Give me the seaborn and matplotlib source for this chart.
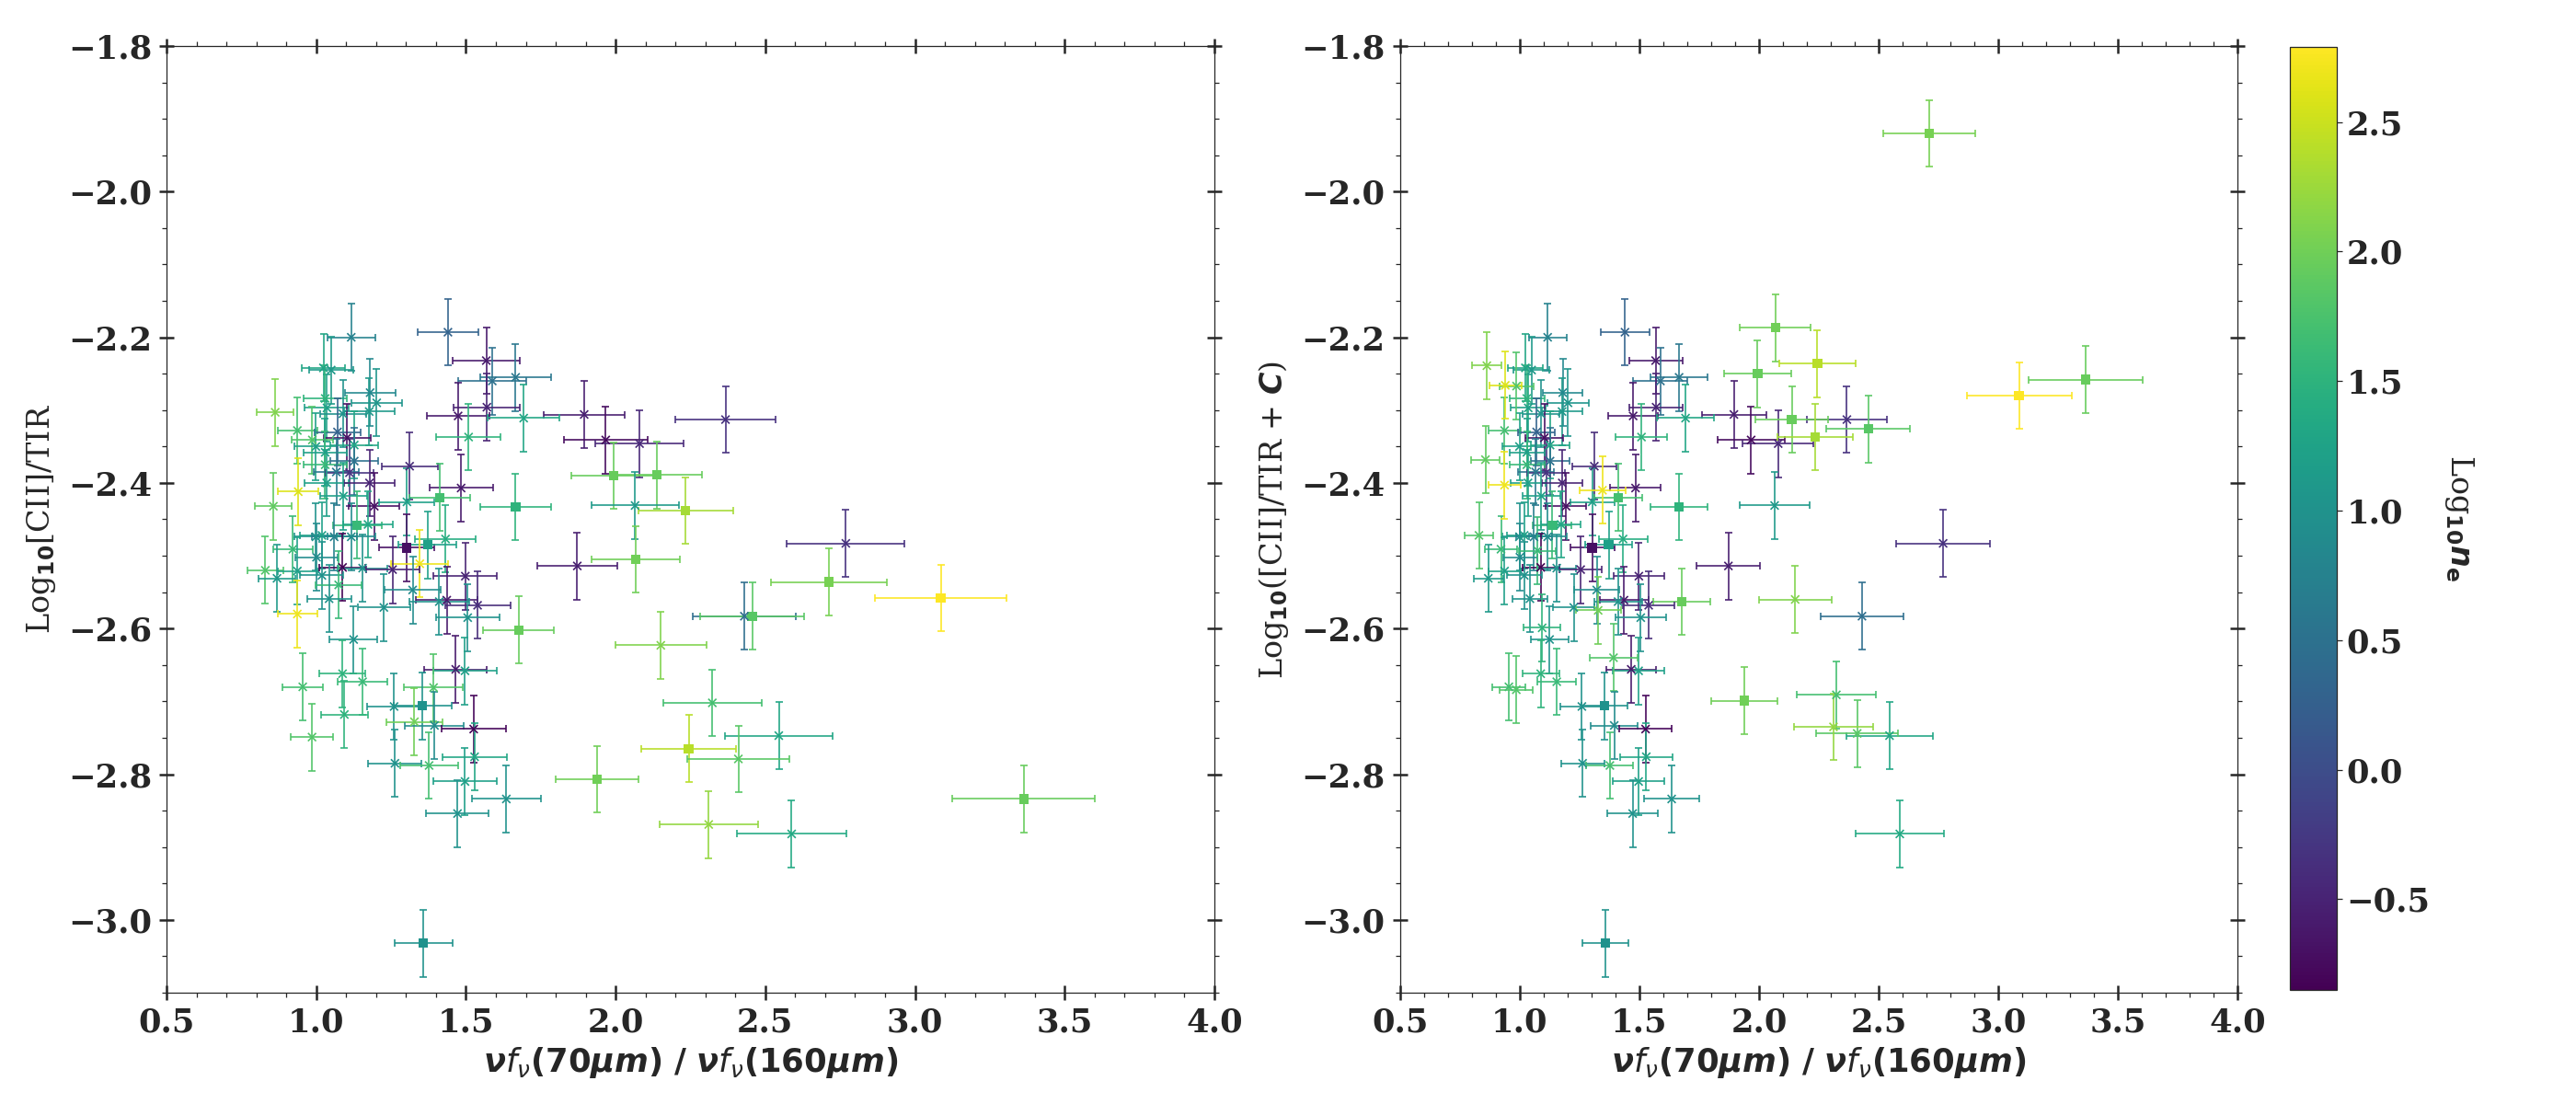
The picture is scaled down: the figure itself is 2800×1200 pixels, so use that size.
import numpy as np
import pandas as pd
import matplotlib
matplotlib.use("Agg")
import matplotlib.pyplot as plt
import seaborn as sns
from matplotlib.ticker import MultipleLocator
from matplotlib.colors import Normalize
from matplotlib.cm import ScalarMappable

# ---------------- data ----------------
ratio_70_160 = [
    1.895, 1.967, 2.080, 2.367, 1.994, 2.137, 2.065, 2.234, 2.769, 2.068,
    1.872, 2.712, 3.086, 2.430, 2.456, 1.676, 2.151, 2.323, 2.545, 2.244,
    2.410, 1.939, 3.363, 2.311, 2.588,
    1.117, 1.440, 1.568, 1.024, 1.050, 1.588, 1.666, 0.863, 1.180, 1.202,
    1.036, 1.030, 1.089, 1.177, 1.570, 1.474, 1.693, 1.509, 0.937, 1.071,
    1.103, 0.987, 0.999, 1.127, 1.030, 1.127, 1.030, 1.312, 0.940, 1.067,
    1.111, 1.035, 1.178, 1.484, 0.857, 1.413, 1.091, 1.194, 1.303, 1.666,
    1.137, 1.173, 1.432, 0.999, 1.019, 1.060, 1.117, 1.303, 1.372, 0.922,
    1.001, 1.346, 0.830, 0.869, 0.937, 1.088, 1.155, 1.255, 1.019, 1.075,
    1.498, 1.322, 1.043, 1.226, 1.436, 1.411, 1.539, 1.506, 0.937,
    1.125, 1.088, 1.155, 0.955, 1.466, 1.497, 1.392, 1.260, 1.355, 1.094,
    1.328, 1.395, 1.526, 0.986, 1.263, 1.377, 1.529, 1.497, 1.635, 1.472,
    1.358,
]
log_cii_tir = [
    -2.306, -2.341, -2.346, -2.313, -2.390, -2.389, -2.431, -2.438, -2.483, -2.505,
    -2.514, -2.536, -2.558, -2.583, -2.583, -2.602, -2.623, -2.702, -2.747, -2.765,
    -2.779, -2.807, -2.834, -2.869, -2.882,
    -2.200, -2.193, -2.232, -2.242, -2.245, -2.260, -2.255, -2.303, -2.276, -2.290,
    -2.297, -2.284, -2.305, -2.302, -2.296, -2.308, -2.311, -2.337, -2.328, -2.330,
    -2.338, -2.341, -2.350, -2.348, -2.358, -2.370, -2.375, -2.377, -2.412, -2.385,
    -2.386, -2.400, -2.400, -2.407, -2.432, -2.420, -2.418, -2.432, -2.426, -2.433,
    -2.458, -2.457, -2.477, -2.474, -2.472, -2.474, -2.474, -2.489, -2.485, -2.491,
    -2.502, -2.511, -2.520, -2.531, -2.521, -2.516, -2.517, -2.519, -2.527, -2.540,
    -2.528, -2.547, -2.559, -2.571, -2.561, -2.563, -2.568, -2.585, -2.580,
    -2.615, -2.662, -2.673, -2.680, -2.656, -2.658, -2.681, -2.707, -2.706, -2.718,
    -2.728, -2.733, -2.738, -2.749, -2.785, -2.788, -2.776, -2.810, -2.834, -2.854,
    -3.032,
]
log_ne = [
    -0.55, -0.75, -0.45, -0.35, 1.95, 1.95, 1.10, 2.30, -0.35, 2.00,
    -0.55, 2.05, 2.79, 0.45, 1.85, 1.95, 2.10, 1.70, 1.30, 2.40,
    1.85, 2.00, 1.95, 2.20, 1.35,
    0.75, 0.30, -0.60, 1.30, 1.10, 0.50, 0.60, 2.10, 0.85, 1.05,
    1.20, 1.50, 1.00, 1.10, -0.50, -0.60, 1.30, 1.50, 1.70, 0.30,
    -0.70, 1.80, 1.20, 1.30, 1.20, 0.50, 1.60, -0.40, 2.60, 0.60,
    -0.30, 1.20, -0.50, -0.60, 1.90, 1.70, 1.20, -0.70, 1.20, 1.50,
    1.60, 1.30, 1.40, 1.00, 1.20, 0.70, 0.90, -0.70, 1.20, 1.60,
    0.90, 2.70, 1.80, 1.10, 1.20, -0.85, 1.00, -0.50, 1.00, 1.60,
    -0.50, 0.90, 1.00, 1.00, -0.60, 1.00, -0.40, 1.00, 2.70,
    1.00, 1.50, 1.60, 1.70, -0.60, 1.20, 1.80, 1.00, 1.00, 1.50,
    2.00, 0.90, -0.80, 1.80, 1.00, 1.70, 1.30, 1.20, 1.00, 1.00,
    1.00,
]
marker_kind = [
    "x", "x", "x", "x", "s", "s", "x", "s", "x", "s",
    "x", "s", "s", "x", "s", "s", "x", "x", "x", "s",
    "x", "s", "s", "x", "x",
    "x", "x", "x", "x", "x", "x", "x", "x", "x", "x",
    "x", "x", "x", "x", "x", "x", "x", "x", "x", "x",
    "x", "x", "x", "x", "x", "x", "x", "x", "x", "x",
    "x", "x", "x", "x", "x", "s", "x", "x", "x", "s",
    "s", "x", "x", "x", "x", "x", "x", "s", "s", "x",
    "x", "x", "x", "x", "x", "x", "x", "x", "x", "x",
    "x", "x", "x", "x", "x", "x", "x", "x", "x",
    "x", "x", "x", "x", "x", "x", "x", "x", "s", "x",
    "x", "x", "x", "x", "x", "x", "x", "x", "x", "x",
    "s",
]
# correction term C added in the right panel
c_correction = [
    0, 0, 0, 0, 0.140, 0.076, 0, 0.101, 0, 0.318,
    0, 0.616, 0.278, 0, 0.257, 0.039, 0.063, 0.011, 0, 0.529,
    0.035, 0.108, 0.576, 0.134, 0,
    0, 0, 0, 0, 0, 0, 0, 0.064, 0, 0,
    0, 0, 0, 0, 0, 0, 0, 0, 0, 0,
    0, 0.074, 0, 0, 0, 0, 0, 0, 0.146, 0,
    0, 0, 0, 0, 0.064, 0, 0, 0, 0, 0,
    0, 0, 0, 0, 0, 0, 0, 0, 0, 0,
    0, 0.101, 0.048, 0, 0, 0, 0, 0, 0, 0.047,
    0, 0, 0, 0, 0, 0, 0, 0, 0.177,
    0, 0, 0, 0, 0, 0, 0.041, 0, 0, 0.119,
    0.153, 0, 0, 0.065, 0, 0, 0, 0, 0, 0,
    0,
]
XERR_FRAC = 0.071   # relative error on the colour ratio
YERR = 0.046        # error on the log ratio (dex)

NE_MIN, NE_MAX = -0.85, 2.79

df = pd.DataFrame({
    "ratio": ratio_70_160,
    "y_left": log_cii_tir,
    "ne": log_ne,
    "kind": marker_kind,
    "C": c_correction,
})
df["y_right"] = df["y_left"] + df["C"]
df["xerr"] = df["ratio"] * XERR_FRAC

# ---------------- style ----------------
sns.set_style("ticks")
plt.rcParams["font.family"] = ["DejaVu Serif"]
plt.rcParams["mathtext.fontset"] = "dejavusans"
plt.rcParams["axes.linewidth"] = 0.9

cmap = plt.get_cmap("viridis")
norm = Normalize(vmin=NE_MIN, vmax=NE_MAX)

W, H = 2800, 1200
fig = plt.figure(figsize=(28, 12), dpi=100)
ax1 = fig.add_axes([181 / W, 1 - 1079 / H, (1320 - 181) / W, (1079 - 50) / H])
ax2 = fig.add_axes([1521.7 / W, 1 - 1079 / H, (2432.4 - 1521.7) / W, (1079 - 50) / H])
cax = fig.add_axes([2489 / W, 1 - 1076 / H, 51 / W, (1076 - 51) / H])

TICK_FS = 25.5
XLAB = r"$\boldsymbol{\nu f_{\nu}(70\mu m)\ /\ \nu f_{\nu}(160\mu m)}$"


def draw_panel(ax, ycol):
    for _, r in df.iterrows():
        ax.errorbar(r["ratio"], r[ycol], xerr=r["xerr"], yerr=YERR, fmt="none",
                    ecolor=cmap(norm(r["ne"])), elinewidth=1.3, capsize=3.2,
                    capthick=1.3, alpha=0.9, zorder=2)
    sq = df[df["kind"] == "s"]
    cr = df[df["kind"] == "x"]
    sns.scatterplot(data=sq, x="ratio", y=ycol, hue="ne", palette="viridis",
                    hue_norm=norm, marker="s", s=55, linewidth=0,
                    legend=False, ax=ax, zorder=3)
    sns.scatterplot(data=cr, x="ratio", y=ycol, hue="ne", palette="viridis",
                    hue_norm=norm, marker="x", s=40, linewidth=1.2,
                    legend=False, ax=ax, zorder=3)
    coll = ax.collections[-1]
    coll.set_edgecolors([cmap(norm(v)) for v in cr["ne"]])

    ax.set_xlim(0.5, 4.0)
    ax.set_ylim(-3.1, -1.8)
    ax.xaxis.set_major_locator(MultipleLocator(0.5))
    ax.xaxis.set_minor_locator(MultipleLocator(0.1))
    ax.yaxis.set_major_locator(MultipleLocator(0.2))
    ax.yaxis.set_minor_locator(MultipleLocator(0.05))
    ax.tick_params(which="major", direction="inout", length=11, width=1.8,
                   top=True, right=True, labelsize=TICK_FS, pad=6)
    ax.tick_params(which="minor", direction="out", length=3.5, width=0.9,
                   top=True, right=True)
    for lab in ax.get_xticklabels() + ax.get_yticklabels():
        lab.set_fontweight("bold")
    ax.set_xlabel(XLAB, fontsize=25.5, labelpad=5)


draw_panel(ax1, "y_left")
draw_panel(ax2, "y_right")
ax1.set_ylabel(r"Log$_{\mathbf{10}}$[CII]/TIR", fontsize=24, fontweight="normal",
               labelpad=8)
ax2.set_ylabel(r"Log$_{\mathbf{10}}$([CII]/TIR + $\boldsymbol{C}$)", fontsize=24,
               fontweight="normal", labelpad=8)

sm = ScalarMappable(norm=norm, cmap=cmap)
cb = fig.colorbar(sm, cax=cax)
cb.outline.set_linewidth(0.9)
cax.tick_params(labelsize=TICK_FS, length=4, width=0.9)
for lab in cax.get_yticklabels():
    lab.set_fontweight("bold")
cb.set_label(r"Log$_{\mathbf{10}}\boldsymbol{n}_{\mathbf{e}}$", rotation=270,
             fontsize=24, labelpad=36)

fig.savefig("out.png", dpi=100)
